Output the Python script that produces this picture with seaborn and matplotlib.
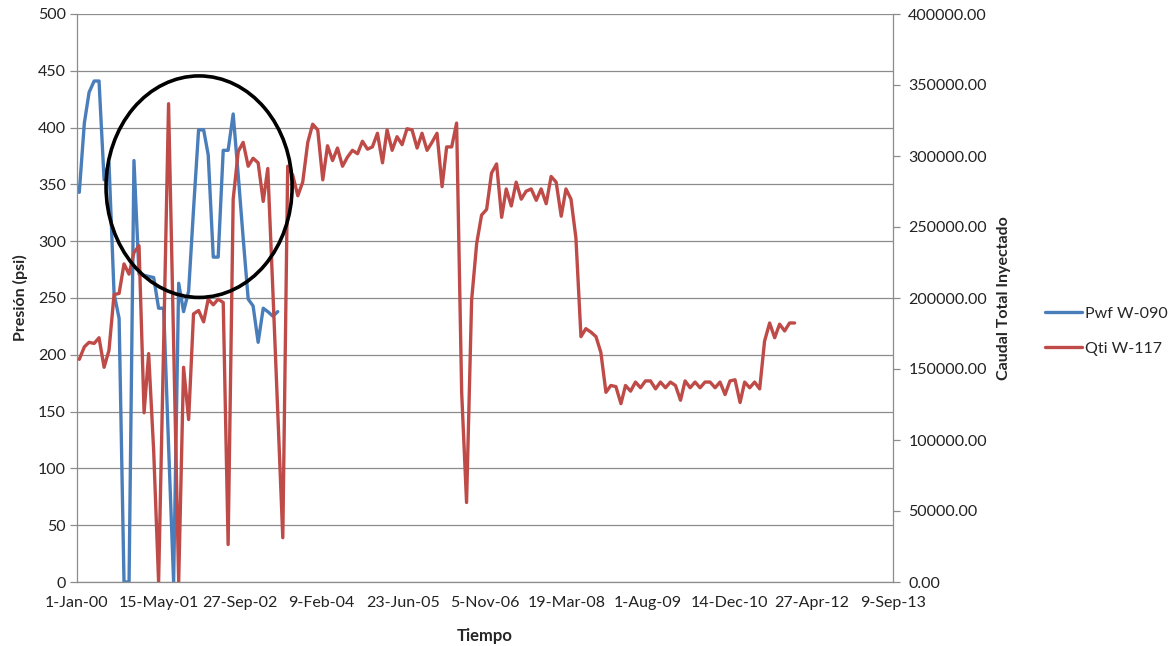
import numpy as np
import pandas as pd
import matplotlib
matplotlib.use("Agg")
import matplotlib.pyplot as plt
import matplotlib.dates as mdates
from matplotlib.patches import Ellipse
import seaborn as sns

# ---------------- data (monthly readings) ----------------
pwf_w090 = [343, 404, 431, 441, 441, 354, 369, 254, 232, 0, 0, 371, 271, 270, 269,
            268, 241, 241, 120, 0, 263, 238, 256, 328, 398, 398, 376, 286, 286, 380,
            380, 412, 358, 303, 249, 243, 211, 241, 238, 234, 238]

qti_w117 = [156800, 165600, 168800, 168000, 172000, 151200, 163200, 202400, 203200, 224000,
            216800, 232000, 236800, 119200, 160800, 92000, 0, 168000, 336800, 168000,
            0, 151200, 114400, 188800, 191200, 183200, 199200, 195200, 199200, 196800,
            26400, 269600, 303200, 309600, 292800, 298400, 295200, 268000, 291200, 205600,
            120000, 31200, 292800, 286400, 272000, 281600, 309600, 322400, 318400, 283200,
            307200, 296800, 305600, 292800, 299200, 304000, 301600, 310400, 304800, 306400,
            316000, 295200, 318400, 304000, 313600, 308000, 319200, 318400, 305600, 316000,
            304000, 309600, 316000, 278400, 306400, 306400, 323200, 133600, 56000, 198400,
            238400, 258400, 262400, 288000, 294400, 256800, 276800, 264800, 281600, 269600,
            275200, 276800, 268800, 276800, 266400, 285600, 281600, 257600, 276800, 269600,
            242400, 172800, 178400, 176000, 172800, 161600, 133600, 138400, 137600, 125600,
            138400, 134400, 140800, 136800, 141600, 141600, 136000, 140800, 136800, 140800,
            138400, 128000, 141600, 136800, 140800, 136800, 140800, 140800, 136800, 140800,
            132000, 141600, 142400, 126400, 140800, 136800, 140800, 136000, 169600, 182400,
            172000, 181600, 176800, 182400, 182400]

series_names = ["Pwf W-090", "Qti W-117"]
x_tick_labels = ["1-Jan-00", "15-May-01", "27-Sep-02", "9-Feb-04", "23-Jun-05", "5-Nov-06",
                 "19-Mar-08", "1-Aug-09", "14-Dec-10", "27-Apr-12", "9-Sep-13"]
left_ticks = [0, 50, 100, 150, 200, 250, 300, 350, 400, 450, 500]
right_ticks = [0, 50000, 100000, 150000, 200000, 250000, 300000, 350000, 400000]

start = pd.Timestamp("2000-01-01")
dates_red = pd.date_range(start, periods=len(qti_w117), freq="MS") + pd.Timedelta(days=14)
dates_blue = dates_red[:len(pwf_w090)]
df_blue = pd.DataFrame({"Tiempo": dates_blue, "v": pwf_w090})
df_red = pd.DataFrame({"Tiempo": dates_red, "v": qti_w117})

# ---------------- style ----------------
sns.set_style("white")
plt.rcParams["font.family"] = ["Lato", "DejaVu Sans"]

BLUE = "#4A7EBB"
RED = "#BE4B48"
GRID = "#8C8C8C"

fig = plt.figure(figsize=(11.74, 6.46), dpi=100)
ax = fig.add_axes([77 / 1174, 1 - 582 / 646, (893 - 77) / 1174, (582 - 14) / 646])
ax2 = ax.twinx()

sns.lineplot(data=df_blue, x="Tiempo", y="v", ax=ax, color=BLUE, linewidth=2.4,
             label=series_names[0], legend=False)
sns.lineplot(data=df_red, x="Tiempo", y="v", ax=ax2, color=RED, linewidth=2.4,
             label=series_names[1], legend=False)

xticks = [start + pd.Timedelta(days=500 * i) for i in range(len(x_tick_labels))]
ax.set_xlim(xticks[0], xticks[-1])
ax.set_xticks(xticks)
ax.set_xticklabels(x_tick_labels)

ax.set_ylim(0, 500)
ax.set_yticks(left_ticks)
ax2.set_ylim(0, 400000)
ax2.set_yticks(right_ticks)
ax2.set_yticklabels([f"{v:.2f}" for v in right_ticks])

ax.yaxis.grid(True, color=GRID, linewidth=0.9)
ax.set_axisbelow(True)
ax.xaxis.grid(False)
ax2.grid(False)

for a in (ax, ax2):
    a.spines["top"].set_visible(False)
    for s in ("left", "right", "bottom"):
        a.spines[s].set_color(GRID)
        a.spines[s].set_linewidth(0.9)
ax.spines["right"].set_visible(False)
ax2.spines["left"].set_visible(False)
ax2.spines["bottom"].set_visible(False)

ax.tick_params(axis="y", direction="out", length=5, color=GRID, width=0.9,
               labelsize=11.5, labelcolor="#222222", pad=3)
ax.tick_params(axis="x", length=0, labelsize=11.5, labelcolor="#222222", pad=10)
ax2.tick_params(axis="y", direction="out", length=5, color=GRID, width=0.9,
                labelsize=11.5, labelcolor="#222222", pad=6)

ax.set_xlabel("Tiempo", fontsize=12, fontweight="bold", labelpad=13)
ax.set_ylabel("Presión (psi)", fontsize=11.5, fontweight="bold", labelpad=7)
ax2.set_ylabel("Caudal Total Inyectado", fontsize=11.5, fontweight="bold", labelpad=7)

# annotation ellipse around the early period
cx = mdates.date2num(pd.Timestamp("2002-01-18"))
ax2.add_patch(Ellipse((cx, 348 * 800), width=1140, height=195 * 800, fill=False,
                      edgecolor="black", linewidth=2.6, zorder=5, clip_on=False))

h1, l1 = ax.get_legend_handles_labels()
h2, l2 = ax2.get_legend_handles_labels()
fig.legend(h1 + h2, l1 + l2, loc="center left", bbox_to_anchor=(1040 / 1174, 1 - 331 / 646),
           frameon=False, fontsize=11.5, handlelength=2.3, handletextpad=0.2,
           labelspacing=1.3, borderaxespad=0, borderpad=0.3)

fig.savefig("out.png", dpi=100)
